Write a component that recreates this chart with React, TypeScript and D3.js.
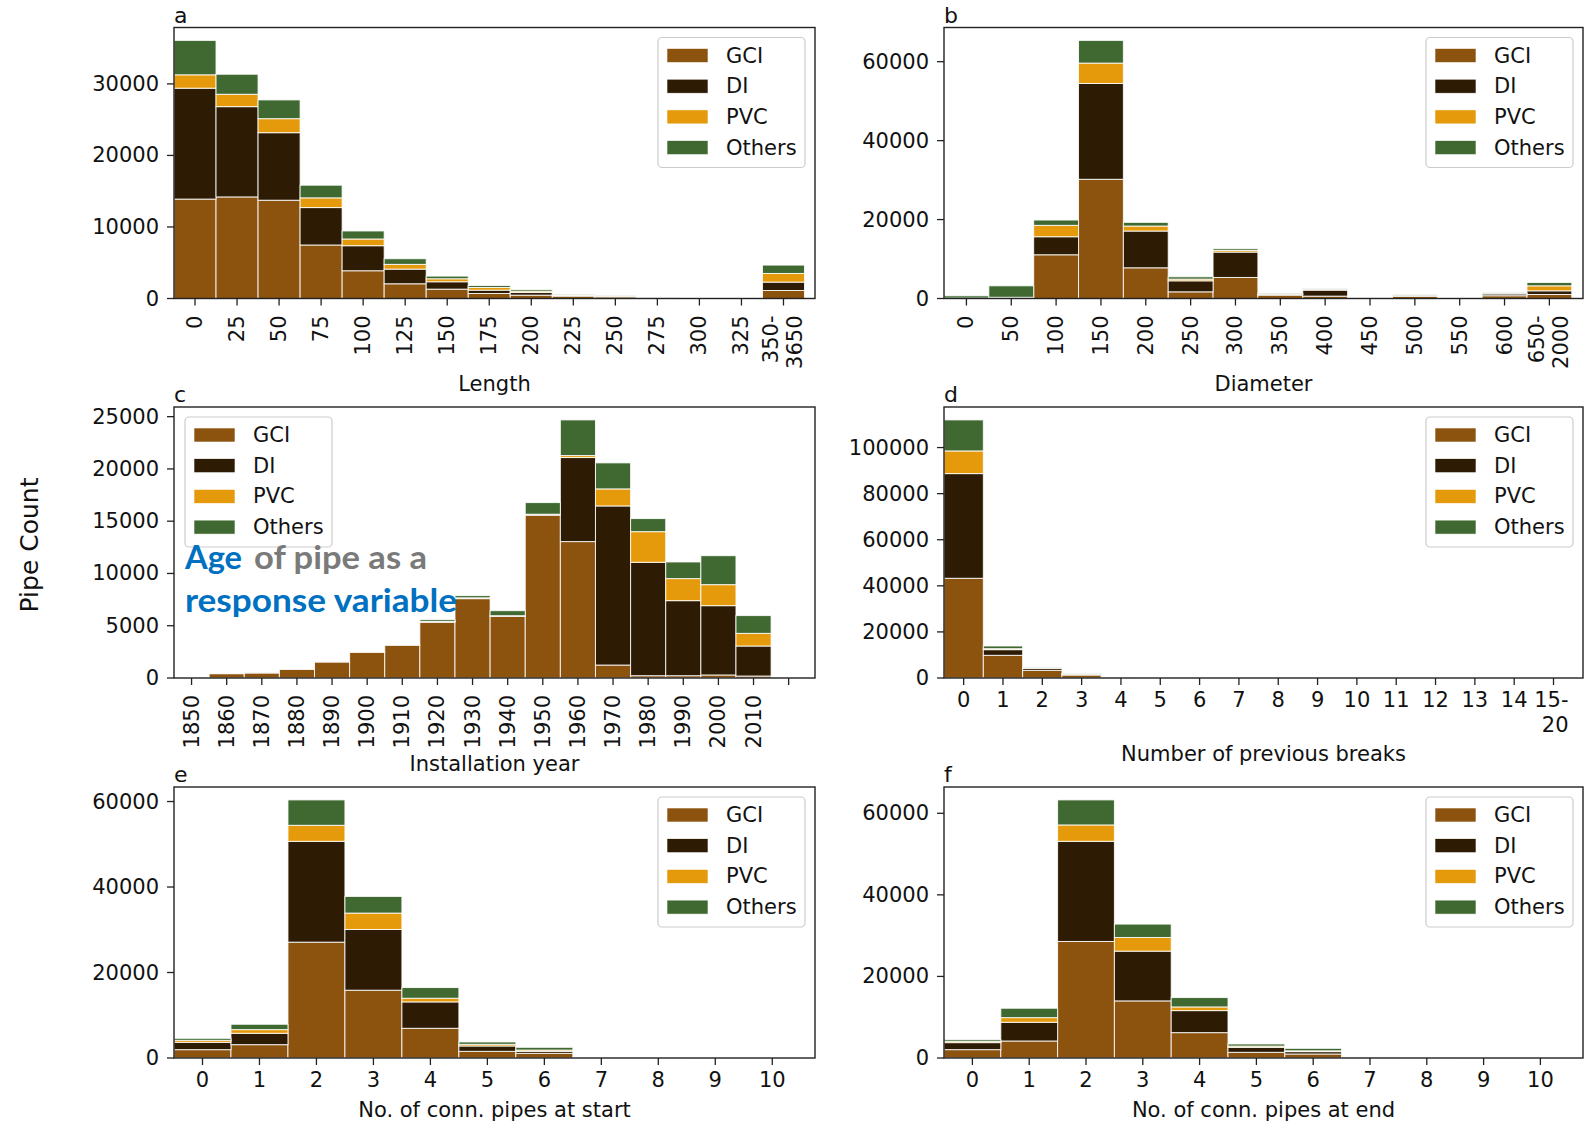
import React from 'react';
import * as d3 from 'd3';

// ---------- data ----------
const materials = ['GCI', 'DI', 'PVC', 'Others'];
const materialColors = ['#8c530e', '#2d1b03', '#e59a0b', '#3f6930'];

// a: Length
const lengthTicks = ['0', '25', '50', '75', '100', '125', '150', '175', '200', '225', '250', '275', '300', '325', '350-\n3650'];
const lengthGCI = [13900, 14200, 13740, 7480, 3880, 2060, 1310, 700, 470, 330, 230, 60, 40, 30, 1120];
const lengthDI = [15500, 12620, 9440, 5230, 3500, 2050, 1030, 470, 370, 90, 50, 20, 10, 10, 1170];
const lengthPVC = [1870, 1730, 1960, 1360, 940, 660, 420, 370, 190, 90, 50, 10, 10, 5, 1210];
const lengthOthers = [4810, 2800, 2620, 1770, 1120, 790, 370, 280, 230, 100, 90, 20, 10, 10, 1170];

// b: Diameter
const diameterTicks = ['0', '50', '100', '150', '200', '250', '300', '350', '400', '450', '500', '550', '600', '650-\n2000'];
const diameterGCI = [60, 150, 11080, 30200, 7780, 1690, 5330, 850, 600, 80, 520, 20, 700, 1020];
const diameterDI = [30, 100, 4570, 24280, 9310, 2790, 6430, 150, 1520, 30, 330, 10, 480, 930];
const diameterPVC = [20, 60, 2880, 5160, 1270, 430, 420, 100, 170, 10, 20, 5, 30, 1260];
const diameterOthers = [570, 2900, 1350, 5750, 930, 590, 430, 250, 250, 20, 60, 10, 230, 850];

// c: Installation year
const yearTicks = ['1850', '1860', '1870', '1880', '1890', '1900', '1910', '1920', '1930', '1940', '1950', '1960', '1970', '1980', '1990', '2000', '2010', ''];
const yearGCI = [0, 415, 480, 830, 1530, 2460, 3130, 5330, 7590, 5900, 15570, 13050, 1240, 220, 220, 290, 190];
const yearDI = [0, 0, 0, 0, 0, 0, 0, 50, 50, 40, 60, 8040, 15220, 10850, 7180, 6630, 2870];
const yearPVC = [0, 0, 0, 0, 0, 0, 0, 30, 30, 20, 40, 190, 1630, 2930, 2110, 2010, 1210];
const yearOthers = [0, 10, 10, 10, 10, 10, 20, 170, 210, 480, 1110, 3410, 2490, 1250, 1590, 2770, 1700];

// d: Number of previous breaks
const breaksTicks = ['0', '1', '2', '3', '4', '5', '6', '7', '8', '9', '10', '11', '12', '13', '14', '15-\n20'];
const breaksGCI = [43270, 9840, 3330, 1300, 300, 100, 50, 30, 15, 10, 8, 5, 5, 3, 3, 5];
const breaksDI = [45430, 2460, 870, 400, 60, 30, 20, 10, 5, 3, 2, 1, 1, 1, 1, 1];
const breaksPVC = [9840, 430, 100, 100, 20, 10, 5, 5, 2, 1, 1, 0, 0, 0, 0, 0];
const breaksOthers = [13460, 1160, 190, 230, 50, 20, 10, 5, 3, 2, 1, 1, 1, 0, 0, 0];

// e: No. of conn. pipes at start
const connTicks = ['0', '1', '2', '3', '4', '5', '6', '7', '8', '9', '10'];
const startGCI = [1950, 3120, 27100, 15860, 6950, 1560, 1090, 100, 20, 5, 5];
const startDI = [1720, 2660, 23590, 14210, 6170, 1250, 470, 30, 5, 0, 0];
const startPVC = [470, 860, 3750, 3830, 860, 390, 300, 10, 0, 0, 0];
const startOthers = [470, 1250, 5940, 3900, 2500, 550, 640, 20, 5, 0, 0];

// f: No. of conn. pipes at end
const endGCI = [2050, 4170, 28570, 14000, 6220, 1390, 980, 160, 20, 5, 5];
const endDI = [1720, 4590, 24560, 12200, 5400, 1230, 580, 50, 5, 0, 0];
const endPVC = [320, 1140, 4010, 3350, 900, 300, 200, 10, 0, 0, 0];
const endOthers = [410, 2300, 6140, 3280, 2300, 520, 610, 30, 5, 0, 0];

const yTicksA = [0, 10000, 20000, 30000];
const yTicksB = [0, 20000, 40000, 60000];
const yTicksC = [0, 5000, 10000, 15000, 20000, 25000];
const yTicksD = [0, 20000, 40000, 60000, 80000, 100000];
const yTicksE = [0, 20000, 40000, 60000];
const yTicksF = [0, 20000, 40000, 60000];

// ---------- layout ----------
const FONT = '"DejaVu Sans", sans-serif';
const FS = 21;
const colL = { left: 174, right: 815 };
const colR = { left: 944, right: 1583 };
const rows = [
  { top: 27.5, bottom: 298.5 },
  { top: 407, bottom: 678 },
  { top: 787, bottom: 1058 },
];

type PanelDef = {
  letter: string;
  ticks: string[];
  nBars: number;
  series: number[][];
  yTicks: number[];
  xlabel: string;
  xlabelY: number;
  rotated: boolean;
  box: { left: number; right: number; top: number; bottom: number };
  legendLeft: boolean;
};

const panels: PanelDef[] = [
  { letter: 'a', ticks: lengthTicks, nBars: 15, series: [lengthGCI, lengthDI, lengthPVC, lengthOthers], yTicks: yTicksA, xlabel: 'Length', xlabelY: 391, rotated: true, box: { ...colL, ...rows[0] }, legendLeft: false },
  { letter: 'b', ticks: diameterTicks, nBars: 14, series: [diameterGCI, diameterDI, diameterPVC, diameterOthers], yTicks: yTicksB, xlabel: 'Diameter', xlabelY: 391, rotated: true, box: { ...colR, ...rows[0] }, legendLeft: false },
  { letter: 'c', ticks: yearTicks, nBars: 17, series: [yearGCI, yearDI, yearPVC, yearOthers], yTicks: yTicksC, xlabel: 'Installation year', xlabelY: 771, rotated: true, box: { ...colL, ...rows[1] }, legendLeft: true },
  { letter: 'd', ticks: breaksTicks, nBars: 16, series: [breaksGCI, breaksDI, breaksPVC, breaksOthers], yTicks: yTicksD, xlabel: 'Number of previous breaks', xlabelY: 761, rotated: false, box: { ...colR, ...rows[1] }, legendLeft: false },
  { letter: 'e', ticks: connTicks, nBars: 11, series: [startGCI, startDI, startPVC, startOthers], yTicks: yTicksE, xlabel: 'No. of conn. pipes at start', xlabelY: 1117, rotated: false, box: { ...colL, ...rows[2] }, legendLeft: false },
  { letter: 'f', ticks: connTicks, nBars: 11, series: [endGCI, endDI, endPVC, endOthers], yTicks: yTicksF, xlabel: 'No. of conn. pipes at end', xlabelY: 1117, rotated: false, box: { ...colR, ...rows[2] }, legendLeft: false },
];

function Legend({ x, y }: { x: number; y: number }) {
  const w = 147, h = 130;
  return (
    <g>
      <rect x={x} y={y} width={w} height={h} rx={4} fill="white" fillOpacity={0.85} stroke="#cccccc" strokeWidth={1.2} />
      {materials.map((m, i) => {
        const cy = y + 18 + i * 30.7;
        return (
          <g key={m}>
            <rect x={x + 9} y={cy - 7} width={41} height={14} fill={materialColors[i]} stroke="white" strokeWidth={0.6} />
            <text x={x + 68} y={cy} dominantBaseline="central" fontSize={FS} fontFamily={FONT} fill="#111">{m}</text>
          </g>
        );
      })}
    </g>
  );
}

function Panel({ p }: { p: PanelDef }) {
  const { box } = p;
  const data = d3.range(p.nBars).map((i) => {
    const o: Record<string, number> = {};
    materials.forEach((m, k) => (o[m] = p.series[k][i]));
    return o;
  });
  const stacked = d3.stack<Record<string, number>>().keys(materials)(data);
  const maxTotal = d3.max(data, (d) => materials.reduce((s, m) => s + d[m], 0)) as number;
  const x = d3.scaleLinear().domain([-0.5, p.ticks.length - 1 + 0.75]).range([box.left, box.right]);
  const y = d3.scaleLinear().domain([0, maxTotal * 1.05]).range([box.bottom, box.top]);
  const legendX = p.legendLeft ? box.left + 11 : box.right - 10 - 147;
  const legendY = box.top + 10;

  return (
    <g>
      {stacked.map((layer, k) => (
        <g key={materials[k]} fill={materialColors[k]}>
          {layer.map((d, i) => {
            const h = y(d[0]) - y(d[1]);
            if (h <= 0) return null;
            return (
              <rect key={i} x={x(i - 0.5)} y={y(d[1])} width={x(i + 0.5) - x(i - 0.5)} height={h}
                stroke="white" strokeOpacity={0.85} strokeWidth={1} />
            );
          })}
        </g>
      ))}
      {p.yTicks.map((t) => (
        <g key={t}>
          <line x1={box.left - 7} x2={box.left} y1={y(t)} y2={y(t)} stroke="#222" strokeWidth={1.3} />
          <text x={box.left - 15} y={y(t)} textAnchor="end" dominantBaseline="central" fontSize={FS} fontFamily={FONT} fill="#111">{t}</text>
        </g>
      ))}
      {p.ticks.map((t, i) => {
        const tx = x(i);
        const lines = t.split('\n');
        return (
          <g key={i}>
            <line x1={tx} x2={tx} y1={box.bottom} y2={box.bottom + 7} stroke="#222" strokeWidth={1.3} />
            {p.rotated
              ? lines.map((ln, j) => {
                  const off = lines.length === 1 ? 0 : (j - (lines.length - 1) / 2) * 24;
                  return (
                    <text key={j} transform={`translate(${tx + off},${box.bottom + 17}) rotate(-90)`} textAnchor="end"
                      dominantBaseline="central" fontSize={FS} fontFamily={FONT} fill="#111">{ln}</text>
                  );
                })
              : lines.map((ln, j) => (
                  <text key={j} x={lines.length === 1 ? tx : tx + 15} y={box.bottom + 22 + j * 25}
                    textAnchor={lines.length === 1 ? 'middle' : 'end'} dominantBaseline="central" fontSize={FS} fontFamily={FONT} fill="#111">{ln}</text>
                ))}
          </g>
        );
      })}
      <rect x={box.left} y={box.top} width={box.right - box.left} height={box.bottom - box.top} fill="none" stroke="#222" strokeWidth={1.4} />
      <text x={box.left} y={box.top - 5} fontSize={22} fontFamily={FONT} fill="#111">{p.letter}</text>
      <text x={(box.left + box.right) / 2} y={p.xlabelY} textAnchor="middle" fontSize={FS} fontFamily={FONT} fill="#111">{p.xlabel}</text>
      <Legend x={legendX} y={legendY} />
    </g>
  );
}

export default function App() {
  return (
    <svg width={1586} height={1124} style={{ position: 'absolute', left: 0, top: 0, background: 'white' }}>
      <rect x={0} y={0} width={1586} height={1124} fill="white" />
      {panels.map((p) => (
        <Panel key={p.letter} p={p} />
      ))}
      <text transform="translate(29,545) rotate(-90)" textAnchor="middle" dominantBaseline="central" fontSize={25} fontFamily={FONT} fill="#111">Pipe Count</text>
      <g fontFamily='Lato, "Open Sans", sans-serif' fontWeight={700} fontSize={33}>
        <text x={185} y={569} fill="#0070c0" textLength={57} lengthAdjust="spacingAndGlyphs">Age</text>
        <text x={254} y={569} fill="#7a7a7a" textLength={173} lengthAdjust="spacingAndGlyphs">of pipe as a</text>
        <text x={185} y={612} fill="#0070c0" textLength={272} lengthAdjust="spacingAndGlyphs">response variable</text>
      </g>
    </svg>
  );
}
